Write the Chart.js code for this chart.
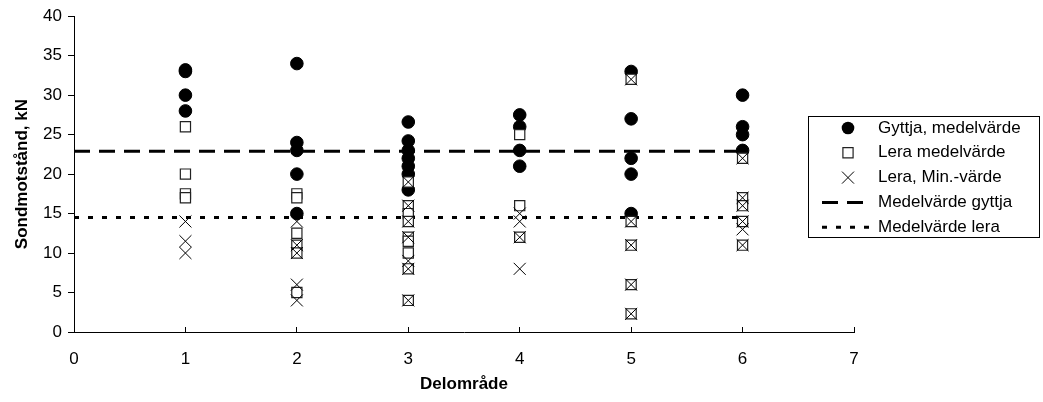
<!DOCTYPE html>
<html>
<head>
<meta charset="utf-8">
<script src="https://cdn.jsdelivr.net/npm/chart.js@4"></script>
<style>
  body { margin: 0; background: #fff; }
  canvas { display: block; }
</style>
</head>
<body>
<canvas id="sondChart" width="1043" height="402"></canvas>
<script>
// Delområde 1..6, one inner list per delområde
var delomrade = [1, 2, 3, 4, 5, 6];
var gyttjaMedel = [
  [33.2, 33, 30, 28],
  [34, 24, 23, 20, 15],
  [26.6, 24.2, 23, 22, 21, 20, 18],
  [27.5, 26, 23, 21],
  [33, 27, 22, 20, 15],
  [30, 26, 25, 23]
];
var leraMedel = [
  [26, 20, 17.5, 17],
  [17.5, 17, 12.5, 11, 10, 5],
  [19, 16, 15, 14, 12, 11.5, 10, 8, 4],
  [25, 16, 12],
  [32, 14, 11, 6, 2.3],
  [22, 17, 16, 14, 11]
];
var leraMin = [
  [14, 11.5, 10],
  [14, 11, 10, 6, 4],
  [19, 16, 14, 12, 9, 8, 4],
  [15, 14, 12, 8],
  [32, 14, 11, 6, 2.3],
  [22, 17, 16, 14, 13, 11]
];
var medelGyttja = 22.9;
var medelLera = 14.5;
var medelX = [0, 6];
var legendLabels = ['Gyttja, medelvärde', 'Lera medelvärde', 'Lera, Min.-värde', 'Medelvärde gyttja', 'Medelvärde lera'];

function toPoints(groups) {
  var pts = [];
  groups.forEach(function(vals, i) {
    vals.forEach(function(v) { pts.push({x: delomrade[i], y: v}); });
  });
  return pts;
}
function hLine(y) {
  return medelX.map(function(x) { return {x: x, y: y}; });
}

var FONT = '"Liberation Sans", Arial, sans-serif';

// legend box floating over the plot, like the excel original
var boxLegend = {
  id: 'boxLegend',
  afterDraw: function(chart) {
    var ctx = chart.ctx;
    var left = 808, top = 116, right = 1039, bottom = 237;
    var rowY = 128, rowStep = 24.8, iconX = 848, textX = 878;
    ctx.save();
    ctx.fillStyle = '#fff';
    ctx.fillRect(left, top, right - left, bottom - top);
    ctx.strokeStyle = '#000';
    ctx.lineWidth = 1;
    ctx.strokeRect(left + 0.5, top + 0.5, right - left, bottom - top);
    chart.data.datasets.forEach(function(ds, i) {
      var y = rowY + i * rowStep;
      ctx.save();
      ctx.strokeStyle = ds.borderColor;
      ctx.fillStyle = ds.backgroundColor;
      ctx.lineWidth = ds.borderWidth;
      ctx.beginPath();
      if (ds.showLine) {
        ctx.setLineDash(ds.borderDash);
        ctx.moveTo(822, y);
        ctx.lineTo(870, y);
        ctx.stroke();
      } else if (ds.pointStyle === 'circle') {
        ctx.arc(iconX, y, ds.pointRadius, 0, Math.PI * 2);
        ctx.fill();
      } else if (ds.pointStyle === 'rect') {
        var s = ds.pointRadius * Math.SQRT1_2;
        ctx.rect(iconX - s, y - s, 2 * s, 2 * s);
        ctx.fill();
        ctx.stroke();
      } else {
        var d = ds.pointRadius * Math.SQRT1_2;
        ctx.moveTo(iconX - d, y - d); ctx.lineTo(iconX + d, y + d);
        ctx.moveTo(iconX - d, y + d); ctx.lineTo(iconX + d, y - d);
        ctx.stroke();
      }
      ctx.restore();
      ctx.fillStyle = '#000';
      ctx.font = '17px ' + FONT;
      ctx.textBaseline = 'middle';
      ctx.textAlign = 'left';
      ctx.fillText(legendLabels[i], textX, y);
    });
    ctx.restore();
  }
};

new Chart(document.getElementById('sondChart'), {
  type: 'scatter',
  data: {
    datasets: [{
      label: legendLabels[0],
      data: toPoints(gyttjaMedel),
      pointStyle: 'circle',
      pointRadius: 6.3,
      pointHoverRadius: 6.3,
      backgroundColor: '#000',
      borderColor: '#000',
      borderWidth: 1,
      order: 2
    }, {
      label: legendLabels[1],
      data: toPoints(leraMedel),
      pointStyle: 'rect',
      pointRadius: 7.2,
      pointHoverRadius: 7.2,
      backgroundColor: '#fff',
      borderColor: '#222',
      borderWidth: 1.2,
      order: 1
    }, {
      label: legendLabels[2],
      data: toPoints(leraMin),
      pointStyle: 'crossRot',
      pointRadius: 8.5,
      pointHoverRadius: 8.5,
      backgroundColor: '#000',
      borderColor: '#000',
      borderWidth: 1,
      order: 0
    }, {
      label: legendLabels[3],
      data: hLine(medelGyttja),
      showLine: true,
      pointRadius: 0,
      borderColor: '#000',
      backgroundColor: '#000',
      borderWidth: 3,
      borderDash: [16, 9],
      order: 3
    }, {
      label: legendLabels[4],
      data: hLine(medelLera),
      showLine: true,
      pointRadius: 0,
      borderColor: '#000',
      backgroundColor: '#000',
      borderWidth: 3,
      borderDash: [5, 9],
      order: 3
    }]
  },
  options: {
    responsive: false,
    animation: false,
    devicePixelRatio: 1,
    layout: { padding: { top: 16, right: 189, bottom: 0, left: 0 } },
    plugins: {
      legend: { display: false },
      tooltip: { enabled: false }
    },
    scales: {
      x: {
        type: 'linear',
        min: 0,
        max: 7,
        afterFit: function(scale) { scale.height = 70; },
        ticks: { stepSize: 1, color: '#000', font: { family: FONT, size: 17 }, padding: 22 },
        grid: { drawOnChartArea: false, tickLength: -5, color: '#000' },
        border: { color: '#000', width: 1 },
        title: {
          display: true,
          text: 'Delområde',
          color: '#000',
          font: { family: FONT, size: 17, weight: 'bold' },
          padding: { top: 0, bottom: 7 }
        }
      },
      y: {
        min: 0,
        max: 40,
        afterFit: function(scale) { scale.width = 74; },
        ticks: { stepSize: 5, color: '#000', font: { family: FONT, size: 17 }, padding: 6 },
        grid: { drawOnChartArea: false, tickLength: 6, color: '#000' },
        border: { color: '#000', width: 1 },
        title: {
          display: true,
          text: 'Sondmotstånd, kN',
          color: '#000',
          font: { family: FONT, size: 17, weight: 'bold' },
          padding: { top: 12, bottom: 0 }
        }
      }
    }
  },
  plugins: [boxLegend]
});
</script>
</body>
</html>
